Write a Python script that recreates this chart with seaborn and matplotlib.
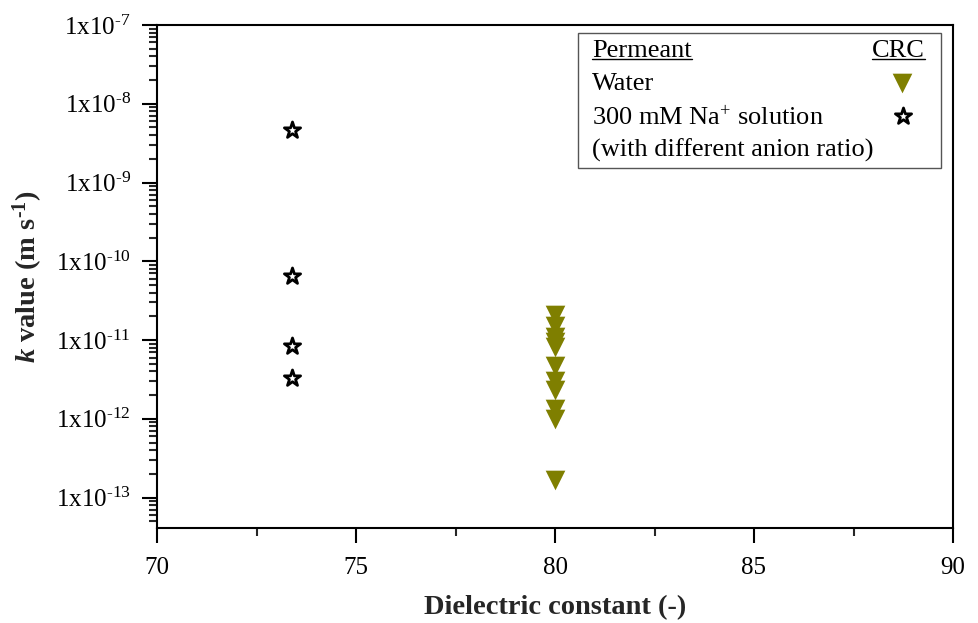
import numpy as np
import pandas as pd
import matplotlib
matplotlib.use("Agg")
import matplotlib.pyplot as plt
import matplotlib.ticker as mticker
from matplotlib.lines import Line2D
from matplotlib.patches import Rectangle
import seaborn as sns

# ---- data ----
water_x = [80, 80, 80, 80, 80, 80, 80, 80, 80, 80, 80]
water_k = [2.1e-11, 1.5e-11, 1.1e-11, 9.4e-12, 8.1e-12, 4.7e-12, 3.0e-12,
           2.3e-12, 1.34e-12, 1.0e-12, 1.65e-13]
na_x = [73.4, 73.4, 73.4, 73.4]
na_k = [4.6e-9, 6.5e-11, 8.5e-12, 3.3e-12]
x_ticks = [70, 75, 80, 85, 90]
y_exponents = [-7, -8, -9, -10, -11, -12, -13]

sns.set_theme(style="ticks")
plt.rcParams["font.family"] = ["Liberation Serif", "DejaVu Serif"]
plt.rcParams["mathtext.fontset"] = "custom"
plt.rcParams["mathtext.rm"] = "Liberation Serif"
plt.rcParams["mathtext.it"] = "Liberation Serif:italic:bold"
plt.rcParams["mathtext.bf"] = "Liberation Serif:bold"

HY = "\u2010"  # typographic hyphen, as in the original labels

W, H = 979.0, 623.0
fig = plt.figure(figsize=(9.79, 6.23), dpi=100)
AX_L, AX_R, AX_T, AX_B = 157, 953, 25, 528
ax = fig.add_axes([AX_L / W, 1 - AX_B / H, (AX_R - AX_L) / W, (AX_B - AX_T) / H])

water_df = pd.DataFrame({"x": water_x, "k": water_k})
na_df = pd.DataFrame({"x": na_x, "k": na_k})

olive = "#7f7f00"
sns.scatterplot(data=water_df, x="x", y="k", marker="v", s=200, color=olive,
                linewidth=0, ax=ax, zorder=3)
sns.scatterplot(data=na_df, x="x", y="k", marker="*", s=150, facecolor="white",
                edgecolor="black", linewidth=2.0, ax=ax, zorder=3)

ax.set_yscale("log")
ax.set_xlim(70, 90)
ax.set_ylim(10 ** -13.386, 1e-7)

ax.set_xticks(x_ticks)
ax.set_xticklabels([str(t) for t in x_ticks])
ax.xaxis.set_minor_locator(mticker.MultipleLocator(2.5))

ax.yaxis.set_major_locator(mticker.FixedLocator([10.0 ** e for e in y_exponents]))
ax.set_yticklabels([r"1x10$^{%s%d}$" % (HY, -e) for e in y_exponents])
ax.yaxis.set_minor_locator(mticker.LogLocator(base=10, subs=np.arange(2, 10), numticks=20))
ax.yaxis.set_minor_formatter(mticker.NullFormatter())

for s in ax.spines.values():
    s.set_linewidth(1.5)
    s.set_color("black")
ax.tick_params(which="major", direction="out", length=11, width=1.5, labelsize=18,
               colors="black", top=False, right=False)
ax.tick_params(axis="x", which="major", pad=10)
ax.tick_params(axis="y", which="major", pad=8)
ax.tick_params(which="minor", direction="out", length=6, width=1.5,
               top=False, right=False)

ax.set_xlabel("Dielectric constant (-)", fontsize=20.5, fontweight="bold")
ax.set_ylabel(r"$k$ value (m s$^{\mathbf{%s1}}$)" % HY, fontsize=20.5, fontweight="bold")
ax.xaxis.set_label_coords(0.5, -(595 - AX_B) / (AX_B - AX_T))
ax.yaxis.set_label_coords((45 - AX_L) / (AX_R - AX_L), 0.5)

# ---- custom legend box ----
def px(x, y):
    return ((x - AX_L) / (AX_R - AX_L), (AX_B - y) / (AX_B - AX_T))

x0, y0 = px(578, 168)
x1, y1 = px(941, 33)
ax.add_patch(Rectangle((x0, y0), x1 - x0, y1 - y0, transform=ax.transAxes,
                       facecolor="white", edgecolor="#555555", linewidth=1.0, zorder=4))
fs = 19
def txt(x, y, s, ha="left"):
    return ax.text(*px(x, y), s, transform=ax.transAxes, fontsize=fs, ha=ha,
                   va="baseline", zorder=5, color="black")

t_perm = txt(592, 57, "Permeant")
t_crc = txt(925, 57, "CRC", ha="right")
txt(592, 90, "Water")
txt(592, 125, r"300 mM Na$^{+}$ solution")
txt(592, 157, "(with different anion ratio)")

fig.canvas.draw()
renderer = fig.canvas.get_renderer()
for t in (t_perm, t_crc):
    bb = t.get_window_extent(renderer)
    pa = px(bb.x0, 59)
    pb = px(bb.x1, 59)
    ax.add_line(Line2D([pa[0], pb[0]], [pa[1], pb[1]], transform=ax.transAxes,
                       color="black", linewidth=1.0, zorder=5))
ax.scatter(*px(902, 83), marker="v", s=200, color=olive, linewidth=0,
           transform=ax.transAxes, zorder=5)
ax.scatter(*px(903, 116), marker="*", s=150, facecolor="white", edgecolor="black",
           linewidth=2.0, transform=ax.transAxes, zorder=5)

fig.savefig("out.png", dpi=100)
